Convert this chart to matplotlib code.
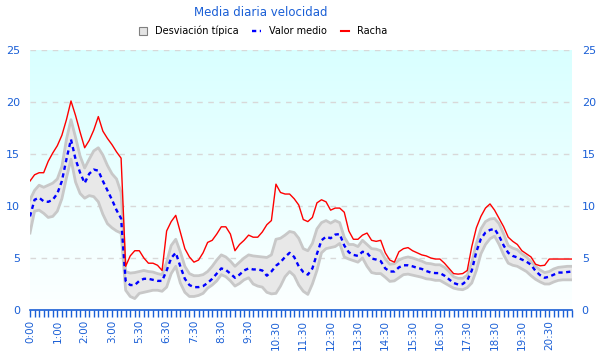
import matplotlib
matplotlib.use("Agg")
import matplotlib.pyplot as plt
import numpy as np
from matplotlib.patches import Patch
from matplotlib.lines import Line2D

tick_labels = ['0:00', '1:00', '2:00', '3:00', '5:30', '6:30', '7:30', '8:30', '9:30',
               '10:30', '11:30', '12:30', '13:30', '14:30', '15:30', '16:30', '17:30',
               '18:30', '19:30', '20:30']

racha = [12.4, 13.0, 13.2, 13.2, 14.3, 15.1, 15.8, 16.8, 18.3, 20.1,
         18.7, 17.1, 15.6, 16.3, 17.3, 18.6, 17.2, 16.5, 15.9, 15.2,
         14.6, 4.2, 5.2, 5.7, 5.7, 5.0, 4.5, 4.5, 4.3, 3.8,
         7.6, 8.5, 9.1, 7.5, 5.9, 5.1, 4.6, 4.8, 5.5, 6.5,
         6.7, 7.3, 8.0, 8.0, 7.3, 5.7, 6.3, 6.7, 7.2, 7.0,
         7.0, 7.5, 8.2, 8.6, 12.1, 11.3, 11.15, 11.15, 10.7, 10.1,
         8.7, 8.5, 8.9, 10.3, 10.6, 10.4, 9.6, 9.8, 9.8, 9.4,
         7.6, 6.8, 6.8, 7.2, 7.4, 6.7, 6.6, 6.7, 5.5, 4.8,
         4.6, 5.6, 5.9, 6.0, 5.7, 5.5, 5.3, 5.2, 5.0, 4.9,
         4.9, 4.5, 4.0, 3.5, 3.45, 3.5, 3.8, 6.1, 7.9, 9.0,
         9.8, 10.2, 9.6, 8.8, 8.0, 7.0, 6.6, 6.3, 5.7, 5.4,
         5.1, 4.4, 4.25, 4.3, 4.9, 4.9, 4.9, 4.9, 4.9, 4.9]

media = [9.0, 10.6, 10.8, 10.45, 10.4, 10.6, 11.2, 12.4, 14.5, 16.4,
         14.5, 13.2, 12.2, 13.1, 13.5, 13.4, 12.4, 11.5, 10.6, 9.6,
         8.8, 2.8, 2.4, 2.4, 2.8, 3.0, 3.0, 2.9, 2.8, 2.8,
         3.8, 5.0, 5.5, 4.2, 3.0, 2.4, 2.2, 2.2, 2.3, 2.6,
         3.0, 3.5, 4.0, 3.85, 3.5, 3.1, 3.4, 3.8, 4.0, 3.9,
         3.9, 3.8, 3.3, 3.7, 4.25, 4.6, 5.1, 5.5, 5.1, 4.2,
         3.65, 3.4, 4.0, 5.4, 6.7, 7.05, 6.9, 7.25, 7.3, 6.2,
         5.55, 5.3, 5.2, 5.6, 5.5, 4.95, 4.85, 4.7, 4.0, 3.7,
         3.7, 4.1, 4.3, 4.3, 4.2, 4.05, 3.95, 3.75, 3.6, 3.55,
         3.55, 3.3, 2.95, 2.6, 2.45, 2.5, 2.85, 3.8, 5.6, 6.85,
         7.45, 7.7, 7.8, 7.1, 6.2, 5.5, 5.2, 5.05, 4.85, 4.65,
         4.35, 3.75, 3.35, 3.1, 3.2, 3.4, 3.6, 3.6, 3.65, 3.7]

desv_sup = [10.6, 11.5, 12.0, 11.8, 12.0, 12.2, 12.6, 13.8, 16.4, 18.3,
            16.6, 14.8, 13.65, 14.5, 15.3, 15.6, 14.9, 13.9, 13.1, 12.6,
            11.3, 3.7, 3.55, 3.6, 3.7, 3.8, 3.7, 3.65, 3.5, 3.4,
            4.6, 6.2, 6.8, 5.6, 4.2, 3.5, 3.3, 3.3, 3.4, 3.7,
            4.2, 4.8, 5.3, 5.1, 4.7, 4.2, 4.6, 5.0, 5.3, 5.2,
            5.15, 5.1, 5.05, 5.3, 6.8, 6.9, 7.2, 7.55, 7.45, 6.9,
            5.9, 5.7, 6.4, 7.8, 8.4, 8.6, 8.35, 8.6, 8.4, 7.0,
            6.3, 6.3, 6.1, 6.7, 6.3, 5.9, 5.85, 5.7, 4.9, 4.4,
            4.45, 4.8, 5.0, 5.1, 5.0, 4.85, 4.7, 4.5, 4.45, 4.35,
            4.35, 4.1, 3.7, 3.2, 3.05, 3.05, 3.35, 4.6, 6.4, 7.8,
            8.5, 8.75, 8.8, 8.3, 7.3, 6.2, 5.95, 5.8, 5.4, 5.1,
            4.65, 4.2, 3.85, 3.6, 3.7, 3.95, 4.1, 4.15, 4.2, 4.2]

desv_inf = [7.4, 9.5, 9.6, 9.3, 8.9, 9.0, 9.5, 10.7, 12.7, 14.5,
            12.3, 11.2, 10.75, 11.0, 10.9, 10.4, 9.2, 8.3, 7.9, 7.6,
            7.4, 1.9, 1.3, 1.1, 1.6, 1.7, 1.8, 1.9, 1.9, 1.8,
            2.2, 3.5, 4.2, 2.6, 1.7, 1.3, 1.3, 1.4, 1.6, 2.1,
            2.4, 2.8, 3.4, 3.2, 2.8, 2.3, 2.55, 2.9, 3.1, 2.5,
            2.3, 2.2, 1.7, 1.55, 1.6, 2.3, 3.2, 3.7, 3.3, 2.4,
            1.8, 1.5, 2.5, 3.8, 5.5, 5.9, 6.0, 6.1, 6.4, 5.1,
            4.9, 4.75, 4.6, 5.0, 4.2, 3.6, 3.5, 3.5, 3.15, 2.75,
            2.8, 3.1, 3.4, 3.45, 3.35, 3.25, 3.15, 3.0, 2.95, 2.85,
            2.85, 2.6, 2.35, 2.1, 2.0, 1.95, 2.15, 2.6, 3.8, 5.4,
            6.3, 6.85, 7.1, 6.3, 5.3, 4.5, 4.3, 4.2, 3.95, 3.7,
            3.3, 2.95, 2.7, 2.5, 2.5, 2.7, 2.85, 2.9, 2.9, 2.9]

BLUE_TXT = '#1a5fd6'

fig = plt.figure(figsize=(6, 3.6), dpi=100)
ax = fig.add_axes([30/600, 1-310/360, 542/600, 260/360])

x = np.arange(len(media))
n = len(media)

# gradient background
grad = np.linspace(0, 1, 256).reshape(-1, 1)
top = np.array([0.85, 1.0, 1.0])
bot = np.array([0.99, 1.0, 1.0])
img = top[None, None, :] * (1 - grad[:, :, None]) + bot[None, None, :] * grad[:, :, None]
ax.imshow(img, extent=[0, n - 1, 0, 25], aspect='auto', origin='upper', zorder=0)

for v in [5, 10, 15, 20, 25]:
    ax.axhline(v, color='#d8d8d8', lw=1, ls=(0, (4, 4)), zorder=1)

ax.fill_between(x, desv_inf, desv_sup, facecolor='#e8e8e8', edgecolor='none', zorder=2)
ax.plot(x, desv_sup, color='#c8c8c8', lw=2, zorder=3)
ax.plot(x, desv_inf, color='#c8c8c8', lw=2, zorder=3)
ax.plot(x, racha, color='#ff0000', lw=1, zorder=5)
ax.plot(x, media, color='#0000ff', lw=1.7, ls=(0, (1.8, 1.5)), zorder=4)

ax.set_xlim(0, n - 1)
ax.set_ylim(0, 25)
ax.set_xticks(np.arange(n))
labels = [''] * n
for k, lab in enumerate(tick_labels):
    labels[k * 6] = lab
ax.set_xticklabels(labels, rotation=90, color=BLUE_TXT, fontsize=7.5)
ax.tick_params(axis='x', colors=BLUE_TXT, length=5, width=1, direction='out', pad=2,
               labelcolor=BLUE_TXT)
ax.set_yticks([0, 5, 10, 15, 20, 25])
ax.tick_params(axis='y', length=0, labelsize=8, labelcolor=BLUE_TXT, pad=7,
               left=False, right=False, labelleft=True, labelright=True)
for s in ['top', 'left', 'right']:
    ax.spines[s].set_visible(False)
ax.spines['bottom'].set_color(BLUE_TXT)
ax.spines['bottom'].set_linewidth(1.2)
ax.spines['bottom'].set_zorder(6)

fig.text(0.435, 1 - 12/360, 'Media diaria velocidad', ha='center', va='center',
         color=BLUE_TXT, fontsize=8.5)

handles = [Patch(facecolor='#e4e4e4', edgecolor='#808080', lw=0.8),
           Line2D([0], [0], color='#0000ff', lw=1.7, ls=(0, (1.8, 1.5))),
           Line2D([0], [0], color='#ff0000', lw=1.5)]
fig.legend(handles, ['Desviación típica', 'Valor medio', 'Racha'], ncol=3,
           loc='center', bbox_to_anchor=(263/600, 1 - 31/360), frameon=False,
           fontsize=7, handlelength=0.9, handleheight=0.9, columnspacing=1.4,
           handletextpad=0.8)

fig.savefig('out.png', dpi=100)
